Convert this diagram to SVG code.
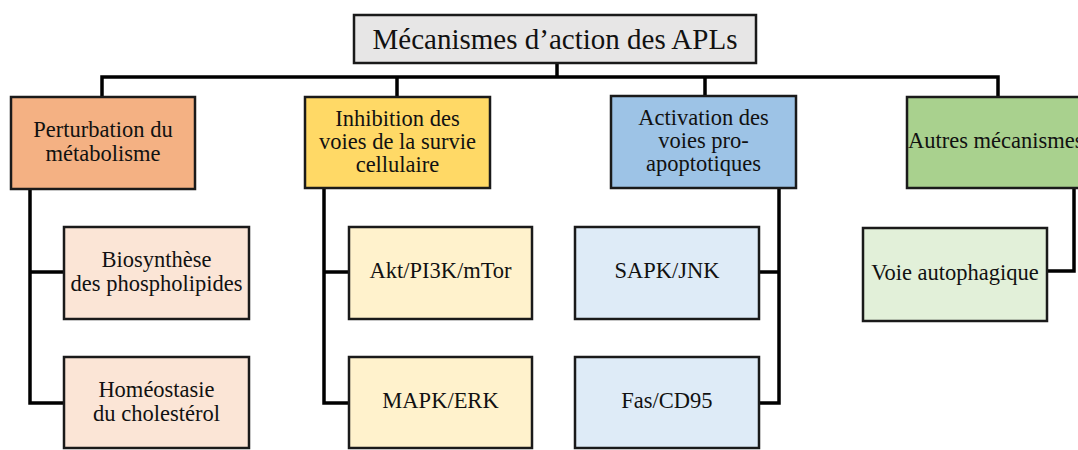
<svg xmlns="http://www.w3.org/2000/svg" width="1078" height="450" viewBox="0 0 1078 450">
<style>
.box{stroke:#1a1a1a;stroke-width:2.5}
.c{fill:none;stroke:#000;stroke-width:3.5;stroke-linejoin:miter}
text{font-family:"Liberation Serif","Times New Roman",serif;font-size:22.5px;fill:#111;text-anchor:middle}
.t{font-size:29px}
.p1{fill:#F4B183}.l1{fill:#FBE5D6}
.p2{fill:#FFD966}.l2{fill:#FFF2CC}
.p3{fill:#9DC3E6}.l3{fill:#DEEBF7}
.p4{fill:#A9D18E}.l4{fill:#E2F0D9}
</style>
<rect width="1078" height="450" fill="#fff"/>
<g id="connectors">
<path class="c" d="M557 63V77M102 97V77H998V97M397 77V97M705 77V97"/>
<path class="c" d="M30 189V403H64M30 272H64"/>
<path class="c" d="M324 188V403H349M324 272H349"/>
<path class="c" d="M779 188V403H759M779 272H759"/>
<path class="c" d="M1074 188V271H1047"/>
</g>
<g id="title"><rect class="box" x="354" y="15" width="402" height="48" fill="#E7E6E6"/><text class="t" x="555" y="49">Mécanismes d’action des APLs</text></g>
<g id="n1"><rect class="box p1" x="11" y="97" width="184" height="92"/><text x="103" y="137">Perturbation du</text><text x="103" y="161">métabolisme</text></g>
<g id="n1a"><rect class="box l1" x="64" y="227" width="185" height="92"/><text x="156.5" y="267">Biosynthèse</text><text x="156.5" y="291">des phospholipides</text></g>
<g id="n1b"><rect class="box l1" x="64" y="357" width="185" height="91"/><text x="156.5" y="397">Homéostasie</text><text x="156.5" y="421">du cholestérol</text></g>
<g id="n2"><rect class="box p2" x="305" y="97" width="185" height="91"/><text x="397.5" y="126">Inhibition des</text><text x="397.5" y="149">voies de la survie</text><text x="397.5" y="172">cellulaire</text></g>
<g id="n2a"><rect class="box l2" x="349" y="227" width="183" height="92"/><text x="440.5" y="278">Akt/PI3K/mTor</text></g>
<g id="n2b"><rect class="box l2" x="349" y="357" width="183" height="91"/><text x="440.5" y="408">MAPK/ERK</text></g>
<g id="n3"><rect class="box p3" x="611" y="96" width="185" height="92"/><text x="703.5" y="125">Activation des</text><text x="703.5" y="148">voies pro-</text><text x="703.5" y="171">apoptotiques</text></g>
<g id="n3a"><rect class="box l3" x="575" y="227" width="184" height="92"/><text x="667" y="278">SAPK/JNK</text></g>
<g id="n3b"><rect class="box l3" x="575" y="357" width="184" height="91"/><text x="667" y="408">Fas/CD95</text></g>
<g id="n4"><rect class="box p4" x="907" y="97" width="183" height="91"/><text x="908" y="148" style="text-anchor:start">Autres mécanismes</text></g>
<g id="n4a"><rect class="box l4" x="863" y="228" width="184" height="93"/><text x="955" y="280">Voie autophagique</text></g>
</svg>
